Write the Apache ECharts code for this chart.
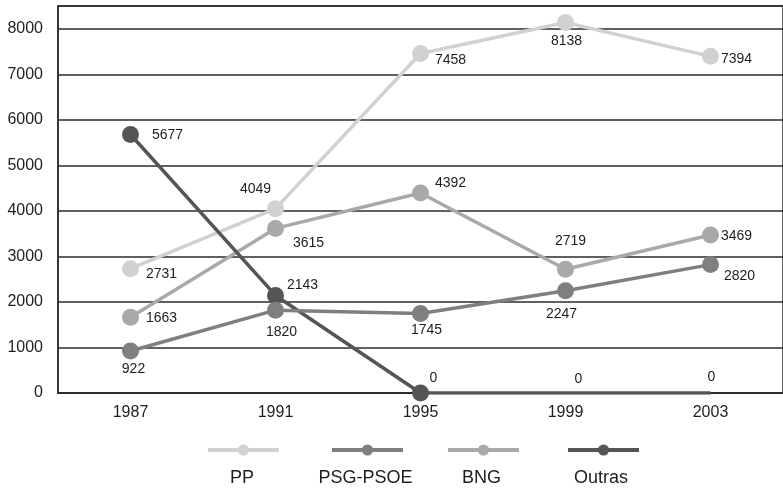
<!DOCTYPE html>
<html>
<head>
<meta charset="utf-8">
<script src="https://cdn.jsdelivr.net/npm/echarts@6/dist/echarts.min.js"></script>
<style>
html,body{margin:0;padding:0;background:#fff;}
#chart{width:783px;height:489px;}
</style>
</head>
<body>
<div id="chart"></div>
<script>
// ---- data ----
const years = ['1987', '1991', '1995', '1999', '2003'];
const seriesNames = ['PP', 'PSG-PSOE', 'BNG', 'Outras'];
const ppValues = [2731, 4049, 7458, 8138, 7394];
const psgValues = [922, 1820, 1745, 2247, 2820];
const bngValues = [1663, 3615, 4392, 2719, 3469];
const outrasValues = [5677, 2143, 0, 0, 0];
const yTicks = [0, 1000, 2000, 3000, 4000, 5000, 6000, 7000, 8000];

// ---- styling ----
const colors = ['#d1d1d1', '#7f7f7f', '#a9a9a9', '#555555'];
const labelOffsets = [
  [[31, 5], [-20, -20], [30, 7], [1, 19], [26, 3]],
  [[3, 18], [6, 22], [6, 17], [-4, 23], [29, 12]],
  [[31, 1], [33, 15], [30, -10], [5, -28], [26, 1]],
  [[37, 1], [27, -10], [13, -15], [13, -14], [1, -16]]
];
const markerVisible = [
  [1, 1, 1, 1, 1],
  [1, 1, 1, 1, 1],
  [1, 1, 1, 1, 1],
  [1, 1, 1, 0, 0]
];
const zOrder = [2, 5, 3, 4];
const legendIconLeft = [206, 330, 446, 566];
const legendTextLeft = [230, 318.5, 462, 574];
const font = "'Liberation Sans', Arial, sans-serif";

const allValues = [ppValues, psgValues, bngValues, outrasValues];

const series = seriesNames.map((name, si) => ({
  name: name,
  type: 'line',
  z: zOrder[si],
  symbol: 'circle',
  symbolSize: 17,
  color: colors[si],
  lineStyle: { width: 3.5, color: colors[si] },
  itemStyle: { color: colors[si] },
  emphasis: { disabled: true },
  data: allValues[si].map((v, i) => ({
    value: v,
    symbolSize: markerVisible[si][i] ? 17 : 0,
    label: { offset: labelOffsets[si][i] }
  })),
  label: {
    show: true,
    position: 'inside',
    color: '#1e1e1e',
    fontSize: 14,
    fontFamily: font
  }
}));

const legends = [];
seriesNames.forEach((name, i) => {
  legends.push({
    data: [name],
    left: legendIconLeft[i],
    top: 443,
    padding: 0,
    itemWidth: 71,
    itemHeight: 14,
    lineStyle: { width: 4 },
    formatter: () => '',
    textStyle: { fontSize: 1 }
  });
  legends.push({
    data: [name],
    left: legendTextLeft[i] - 6,
    top: 467,
    padding: 0,
    icon: 'none',
    itemWidth: 1,
    itemHeight: 22,
    textStyle: { fontSize: 18, color: '#1e1e1e', fontFamily: font }
  });
});

const chart = echarts.init(document.getElementById('chart'));
chart.setOption({
  animation: false,
  backgroundColor: '#fff',
  grid: {
    left: 58, right: -3, top: 6, bottom: 96,
    show: true, borderColor: '#2b2b2b', borderWidth: 1.5
  },
  legend: legends,
  xAxis: {
    type: 'category',
    data: years,
    boundaryGap: true,
    axisTick: { show: false },
    axisLine: { show: true, lineStyle: { color: '#2b2b2b', width: 2 } },
    axisLabel: { fontSize: 16, color: '#1e1e1e', margin: 12, fontFamily: font }
  },
  yAxis: {
    type: 'value',
    min: yTicks[0],
    max: 8500,
    interval: yTicks[1] - yTicks[0],
    axisTick: { show: false },
    axisLine: { show: true, lineStyle: { color: '#2b2b2b', width: 1.5 } },
    splitLine: { show: true, lineStyle: { color: '#2b2b2b', width: 1.5 } },
    axisLabel: {
      fontSize: 16, color: '#1e1e1e', margin: 15, fontFamily: font,
      showMaxLabel: false,
      formatter: v => (yTicks.indexOf(v) >= 0 ? String(v) : '')
    }
  },
  series: series
});
</script>
</body>
</html>
